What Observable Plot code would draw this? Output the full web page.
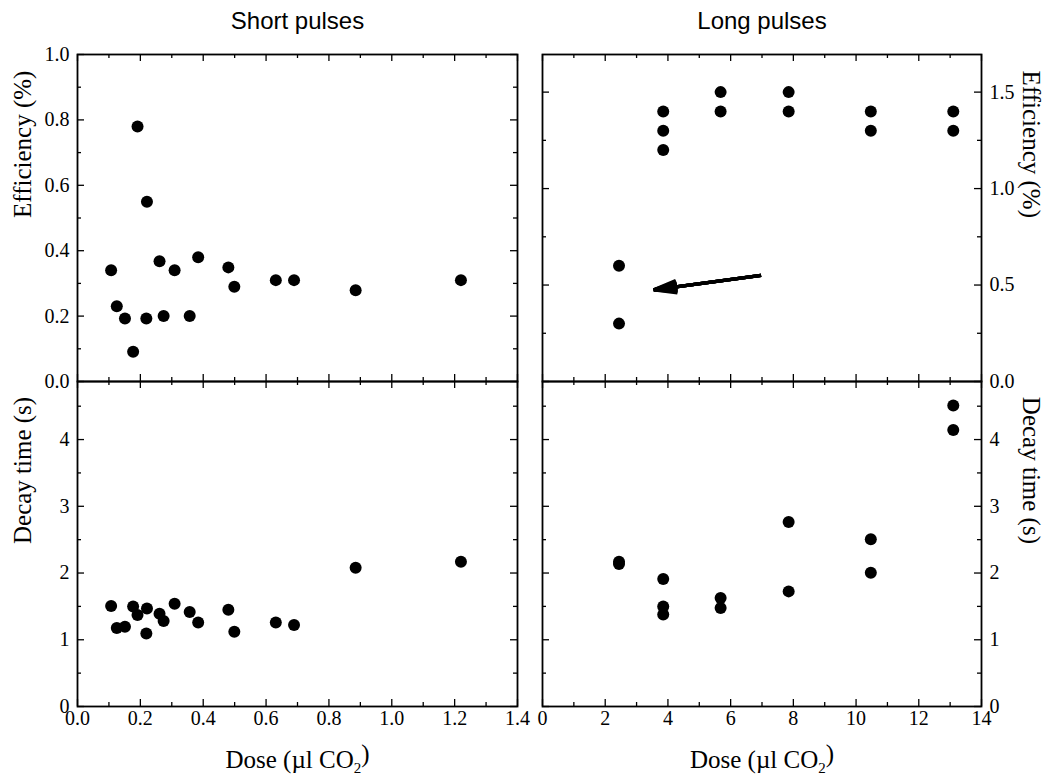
<!DOCTYPE html>
<html><head><meta charset="utf-8">
<script src="https://cdn.jsdelivr.net/npm/d3@7"></script>
<script src="https://cdn.jsdelivr.net/npm/@observablehq/plot@0.6"></script>
<style>
html,body{margin:0;padding:0;background:#fff;}
#chart{position:relative;width:1047px;height:776px;overflow:hidden;background:#fff;}
#chart svg{position:absolute;left:0;top:0;}
#chart svg text{font-family:'Liberation Serif','Times New Roman',Times,serif;font-variant:normal;font-variant-numeric:normal;}
</style></head><body><div id="chart"></div>
<script>
// ---- data ----
const shortDose  = [0.107, 0.125, 0.151, 0.177, 0.191, 0.219, 0.221, 0.261, 0.274, 0.309, 0.357, 0.384, 0.480, 0.499, 0.631, 0.689, 0.885, 1.220];
const shortEff   = [0.34, 0.23, 0.193, 0.091, 0.78, 0.193, 0.55, 0.368, 0.20, 0.34, 0.20, 0.38, 0.349, 0.29, 0.31, 0.31, 0.279, 0.31];
const shortDecay = [1.505, 1.175, 1.195, 1.50, 1.37, 1.095, 1.47, 1.39, 1.28, 1.54, 1.415, 1.26, 1.45, 1.12, 1.26, 1.22, 2.08, 2.17];

const longDose  = [2.44, 2.44, 3.85, 3.85, 3.85, 5.68, 5.68, 7.85, 7.85, 10.47, 10.47, 13.1, 13.1];
const longEff   = [0.60, 0.30, 1.40, 1.30, 1.20, 1.50, 1.40, 1.50, 1.40, 1.40, 1.30, 1.40, 1.30];
const longDecay = [2.17, 2.135, 1.91, 1.50, 1.38, 1.625, 1.475, 2.765, 1.725, 2.505, 2.005, 4.51, 4.145];

const arrowX1 = [6.97], arrowY1 = [0.55], arrowX2 = [3.55], arrowY2 = [0.475];
const arrowHeadAngles = [0, 6, 12, 18, 24, 30];

const shortXMajor = [0, 0.2, 0.4, 0.6, 0.8, 1.0, 1.2, 1.4];
const shortXMinor = [0.1, 0.3, 0.5, 0.7, 0.9, 1.1, 1.3];
const longXMajor  = [0, 2, 4, 6, 8, 10, 12, 14];
const longXMinor  = [1, 3, 5, 7, 9, 11, 13];
const shortEffMajor = [0, 0.2, 0.4, 0.6, 0.8, 1.0];
const shortEffMinor = [0.1, 0.3, 0.5, 0.7, 0.9];
const longEffMajor  = [0, 0.5, 1.0, 1.5];
const longEffMinor  = [0.25, 0.75, 1.25];
const decayMajor = [0, 1, 2, 3, 4];
const decayMinor = [0.5, 1.5, 2.5, 3.5, 4.5];

const titles = ["Short pulses", "Long pulses"];
const effTitle = "Efficiency (%)";
const decayTitle = "Decay time (s)";
const doseTitle = "Dose (µl CO2)";

// ---- layout ----
const W = 1047, H = 776;
const serif = "'Liberation Serif','Times New Roman',Times,serif";
const sans = "'Liberation Sans',Arial,Helvetica,sans-serif";
const FS = 20, TFS = 25;
const MAJ = 7, MIN = 4;

function panel(o) {
  const {box, xDomain, yDomain, xMajor, xMinor, yMajor, yMinor, yFmt, xFmt, side, yTitle, xTitle, title, dx, dy, extra} = o;
  const pw = box.r - box.l, ph = box.b - box.t;
  const tk = {stroke: "black", strokeWidth: 1.3};
  const marks = [
    Plot.tickX(xMajor, {x: d => d, insetTop: ph - MAJ, ...tk}),
    Plot.tickX(xMinor, {x: d => d, insetTop: ph - MIN, ...tk}),
    Plot.tickX(xMajor, {x: d => d, insetBottom: ph - MAJ, ...tk}),
    Plot.tickX(xMinor, {x: d => d, insetBottom: ph - MIN, ...tk}),
    Plot.tickY(yMajor, {y: d => d, insetRight: pw - MAJ, ...tk}),
    Plot.tickY(yMinor, {y: d => d, insetRight: pw - MIN, ...tk}),
    Plot.tickY(yMajor, {y: d => d, insetLeft: pw - MAJ, ...tk}),
    Plot.tickY(yMinor, {y: d => d, insetLeft: pw - MIN, ...tk}),
    Plot.frame({stroke: "black", strokeWidth: 1.8}),
    Plot.dot(dx, {x: dx, y: dy, r: 6, fill: "black", stroke: "none"}),
    Plot.text(yMajor, {y: d => d, frameAnchor: side, lineAnchor: "middle", dx: side === "left" ? -8 : 8,
      textAnchor: side === "left" ? "end" : "start", text: yFmt, fontSize: FS, fontFamily: serif, fill: "black"}),
    Plot.text([yTitle], {frameAnchor: side, lineAnchor: "middle", dx: side === "left" ? -55 : 49, rotate: side === "left" ? -90 : 90,
      text: d => d, fontSize: TFS, fontFamily: serif, fill: "black"})
  ];
  if (xTitle) {
    marks.push(Plot.text(xMajor, {x: d => d, frameAnchor: "bottom", dy: 4, lineAnchor: "top", text: xFmt,
      fontSize: FS, fontFamily: serif, fill: "black"}));
    marks.push(Plot.text([xTitle], {frameAnchor: "bottom", lineAnchor: "middle", dy: 53, text: d => d,
      fontSize: TFS, fontFamily: serif, fill: "black"}));
  }
  if (title) {
    marks.push(Plot.text([title], {frameAnchor: "top", lineAnchor: "middle", dy: -33, text: d => d,
      fontSize: 24, fontFamily: sans, fill: "black"}));
  }
  if (extra) marks.push(...extra);
  const svg = Plot.plot({
    width: W, height: H,
    marginLeft: box.l, marginRight: W - box.r, marginTop: box.t, marginBottom: H - box.b,
    style: {background: "transparent", overflow: "visible", fontFamily: serif, color: "black"},
    x: {domain: xDomain, axis: null},
    y: {domain: yDomain, axis: null},
    marks
  });
  const ns = "http://www.w3.org/2000/svg";
  svg.querySelectorAll("text").forEach(t => {
    if (t.textContent === doseTitle) {
      t.textContent = "";
      const a = document.createElementNS(ns, "tspan"); a.textContent = "Dose (µl CO";
      const b = document.createElementNS(ns, "tspan"); b.textContent = "2"; b.setAttribute("dy", "0.35em"); b.setAttribute("font-size", "15");
      const c = document.createElementNS(ns, "tspan"); c.textContent = ")"; c.setAttribute("dy", "-0.45em");
      t.append(a, b, c);
    }
    if (titles.includes(t.textContent)) {
      t.style.fontFamily = sans;
    }
  });
  return svg;
}

const f1 = d => d.toFixed(1);
const f0 = d => d.toFixed(0);
const L = {l: 77, r: 517}, R = {l: 542, r: 981};
const T = {t: 54, b: 381}, B = {t: 381, b: 706};

const arrowMarks = arrowHeadAngles.map(a => Plot.arrow(arrowX1, {x1: arrowX1, y1: arrowY1, x2: arrowX2, y2: arrowY2,
  stroke: "black", strokeWidth: 3.4, headLength: 10.5, headAngle: a, strokeLinecap: "butt"}));

const chart = document.getElementById("chart");
chart.append(panel({box: {...L, ...T}, xDomain: [0, 1.4], yDomain: [0, 1.0], xMajor: shortXMajor, xMinor: shortXMinor,
  yMajor: shortEffMajor, yMinor: shortEffMinor, yFmt: f1, side: "left", yTitle: effTitle, title: titles[0], dx: shortDose, dy: shortEff}));
chart.append(panel({box: {...R, ...T}, xDomain: [0, 14], yDomain: [0, 1.695], xMajor: longXMajor, xMinor: longXMinor,
  yMajor: longEffMajor, yMinor: longEffMinor, yFmt: f1, side: "right", yTitle: effTitle, title: titles[1], dx: longDose, dy: longEff,
  extra: arrowMarks}));
chart.append(panel({box: {...L, ...B}, xDomain: [0, 1.4], yDomain: [0, 4.87], xMajor: shortXMajor, xMinor: shortXMinor,
  yMajor: decayMajor, yMinor: decayMinor, yFmt: f0, xFmt: f1, side: "left", yTitle: decayTitle, xTitle: doseTitle, dx: shortDose, dy: shortDecay}));
chart.append(panel({box: {...R, ...B}, xDomain: [0, 14], yDomain: [0, 4.87], xMajor: longXMajor, xMinor: longXMinor,
  yMajor: decayMajor, yMinor: decayMinor, yFmt: f0, xFmt: f0, side: "right", yTitle: decayTitle, xTitle: doseTitle, dx: longDose, dy: longDecay}));
</script></body></html>
